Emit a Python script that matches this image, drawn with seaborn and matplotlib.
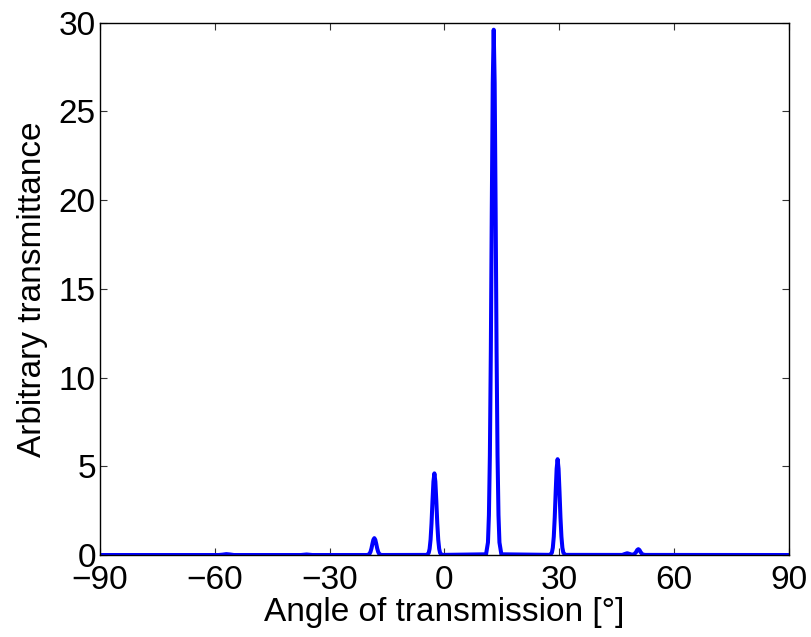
import seaborn as sns
import matplotlib.pyplot as plt

# angle of transmission [deg] and transmittance
angle = [-90, -60, -59, -58, -57, -56, -55, -38, -37.5, -36, -34.5, -33,
         -20.3, -19.8, -19.55, -19.3, -19.05, -18.8, -18.55, -18.3, -18.05, -17.8, -17.55, -17.3, -17.05, -16.8, -16.3,
         -4.6, -4.1, -3.85, -3.6, -3.35, -3.1, -2.85, -2.6, -2.35, -2.1, -1.85, -1.6, -1.35, -1.1, -0.6,
         10.9, 11.4, 11.65, 11.9, 12.15, 12.4, 12.65, 12.9, 13.15, 13.4, 13.65, 13.9, 14.15, 14.4, 14.9,
         27.6, 28.1, 28.35, 28.6, 28.85, 29.1, 29.35, 29.6, 29.85, 30.1, 30.35, 30.6, 30.85, 31.1, 31.6,
         46.5, 47.2, 47.8, 48.4, 49.0, 49.6, 50.1, 50.4, 50.7, 51.0, 51.3, 51.8, 52.5, 90]
trans = [0, 0, 0.0, 0.02, 0.05, 0.03, 0.0, 0, 0.0, 0.03, 0.0, 0,
         0.001, 0.02, 0.07, 0.18, 0.37, 0.63, 0.86, 0.95, 0.86, 0.63, 0.37, 0.18, 0.07, 0.02, 0.001,
         0.006, 0.11, 0.35, 0.87, 1.79, 3.04, 4.14, 4.6, 4.14, 3.04, 1.79, 0.87, 0.35, 0.11, 0.006,
         0.04, 0.71, 2.25, 5.62, 11.5, 19.5, 26.6, 29.6, 26.6, 19.5, 11.5, 5.62, 2.25, 0.71, 0.04,
         0.008, 0.13, 0.41, 1.03, 2.11, 3.56, 4.86, 5.4, 4.86, 3.56, 2.11, 1.03, 0.41, 0.13, 0.008,
         0.005, 0.06, 0.1, 0.06, 0.02, 0.04, 0.16, 0.28, 0.33, 0.28, 0.16, 0.03, 0.005, 0]

xticks = [-90, -60, -30, 0, 30, 60, 90]
yticks = [0, 5, 10, 15, 20, 25, 30]

sns.set_style('ticks')
plt.rcParams['font.family'] = ['Liberation Sans', 'DejaVu Sans']
plt.rcParams['text.color'] = 'black'
plt.rcParams['axes.labelcolor'] = 'black'

fig = plt.figure(figsize=(8.11, 6.37), dpi=100)
ax = fig.add_axes([0.1233, 0.1287, 0.9725 - 0.1233, 0.9645 - 0.1287])
sns.lineplot(x=angle, y=trans, color='#0000ff', linewidth=2.9, ax=ax)

ax.set_xlim(-90, 90)
ax.set_ylim(0, 30)
ax.set_xticks(xticks)
ax.set_yticks(yticks)
ax.set_xticklabels(['\u2212' + str(-t) if t < 0 else str(t) for t in xticks])
ax.tick_params(direction='in', length=5, width=0.8, labelsize=24,
               top=True, right=True, color='#333333', labelcolor='black')
ax.tick_params(axis='x', pad=7)
ax.tick_params(axis='y', pad=3)
for s in ax.spines.values():
    s.set_visible(True)
    s.set_color('black')
    s.set_linewidth(1)
ax.set_xlabel('Angle of transmission [°]', fontsize=24, labelpad=1)
ax.set_ylabel('Arbitrary transmittance', fontsize=24, labelpad=8)

fig.savefig('out.png', dpi=100)
